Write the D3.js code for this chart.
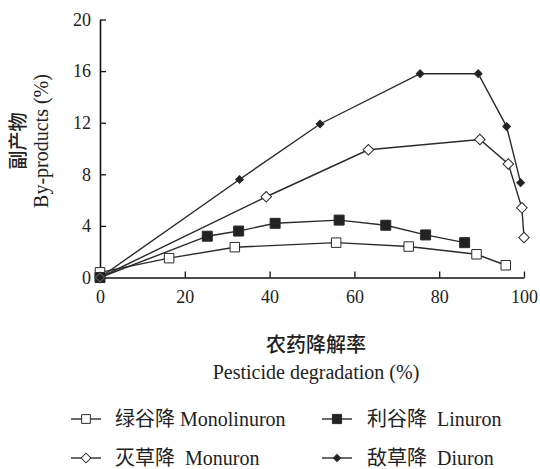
<!DOCTYPE html>
<html>
<head>
<meta charset="utf-8">
<script src="https://cdn.jsdelivr.net/npm/d3@7"></script>
<style>
  body { margin: 0; background: #fff; }
</style>
</head>
<body>
<svg id="chart" width="540" height="469"></svg>
<script>
/*************************Data********************* */
const seriesNames = ["绿谷降 Monolinuron", "利谷降  Linuron", "灭草降  Monuron", "敌草降  Diuron"];
const monolinuronX = [0, 16.3, 31.8, 55.7, 72.8, 88.8, 95.7];
const monolinuronY = [0.4, 1.5, 2.35, 2.7, 2.4, 1.8, 0.95];
const linuronX = [0, 25.3, 32.7, 41.3, 56.4, 67.4, 76.8, 86];
const linuronY = [0, 3.2, 3.6, 4.2, 4.45, 4.05, 3.3, 2.7];
const monuronX = [0, 39.2, 63.3, 89.6, 96.3, 99.5, 100];
const monuronY = [0, 6.26, 9.9, 10.7, 8.8, 5.4, 3.1];
const diuronX = [0, 32.9, 51.9, 75.5, 89.2, 95.9, 99.2];
const diuronY = [0, 7.6, 11.9, 15.8, 15.8, 11.7, 7.35];
const xTicks = [0, 20, 40, 60, 80, 100];
const yTicks = [0, 4, 8, 12, 16, 20];

const zip = (xs, ys) => xs.map((x, i) => ({ x: x, y: ys[i] }));
const series = [
  { name: seriesNames[0], pts: zip(monolinuronX, monolinuronY), marker: "square", filled: false },
  { name: seriesNames[1], pts: zip(linuronX, linuronY), marker: "square", filled: true },
  { name: seriesNames[2], pts: zip(monuronX, monuronY), marker: "diamond", filled: false },
  { name: seriesNames[3], pts: zip(diuronX, diuronY), marker: "diamond", filled: true },
];

const serif = "'Liberation Serif', 'Times New Roman', 'DejaVu Serif', 'Noto Sans CJK SC', serif";

/*************************Scales and Axes********************* */
const svg = d3.select("svg#chart");
const scaleX = d3.scaleLinear().domain([0, 100]).range([100, 524]);
const scaleY = d3.scaleLinear().domain([0, 20]).range([277.5, 19.5]);

const xAxis = d3.axisBottom(scaleX).tickValues(xTicks).tickSizeInner(-6).tickSizeOuter(0).tickPadding(13);
const yAxis = d3.axisLeft(scaleY).tickValues(yTicks).tickSizeInner(-6).tickSizeOuter(0).tickPadding(9);

svg.append("g").attr("class", "x-axis").attr("transform", `translate(0,${scaleY(0)})`).call(xAxis);
svg.append("g").attr("class", "y-axis").attr("transform", `translate(${scaleX(0)},0)`).call(yAxis);

svg.selectAll(".domain").attr("stroke", "#111").attr("stroke-width", 1.6);
svg.selectAll(".tick line").attr("stroke", "#111").attr("stroke-width", 1.3);
svg.selectAll(".tick text").style("font-family", serif).style("font-size", "18px").attr("fill", "#222");

// axis titles
const title = (x, y, rot, size, weight, txt) =>
  svg.append("text").attr("transform", `translate(${x},${y})${rot ? " rotate(-90)" : ""}`)
    .attr("text-anchor", "middle").style("font-family", serif).style("font-size", size + "px")
    .style("font-weight", weight).attr("fill", "#222").text(txt);
title(25, 141, true, 19, 500, "副产物");
title(48, 141, true, 20, 400, "By-products (%)");
title(316, 352, false, 20, 500, "农药降解率");
title(316, 379, false, 20, 400, "Pesticide degradation (%)");

/*************************Drawing Lines and Markers********************* */
const markerPath = (s, k) => s.marker === "square"
  ? d3.symbol(d3.symbolSquare, (s.filled ? 100 : 90) * k)()
  : d3.symbol(d3.symbolSquare, (s.filled ? 30 : 56) * k)();
const markerRot = (s) => (s.marker === "diamond" ? " rotate(45)" : "");

const line = d3.line().x((d) => scaleX(d.x)).y((d) => scaleY(d.y));
const plot = svg.append("g").attr("class", "draw");

series.forEach((s) => {
  plot.append("path").datum(s.pts).attr("d", line)
    .attr("fill", "none").attr("stroke", "#2a2a2a").attr("stroke-width", 1.4);
});
series.forEach((s) => {
  plot.append("g").selectAll("path").data(s.pts).join("path")
    .attr("d", markerPath(s, 1))
    .attr("transform", (d) => `translate(${scaleX(d.x)},${scaleY(d.y)})${markerRot(s)}`)
    .attr("fill", s.filled ? "#222" : "#fff")
    .attr("stroke", "#2a2a2a").attr("stroke-width", 1);
});

/*************************Legend********************* */
const legendPos = [[86, 419, 115], [337, 419, 367], [86, 458, 115], [337, 458, 367]];
const legend = svg.append("g").attr("class", "legend");
series.forEach((s, i) => {
  const [cx, cy, tx] = legendPos[i];
  const g = legend.append("g");
  g.append("line").attr("x1", cx - 15).attr("x2", cx + 15).attr("y1", cy).attr("y2", cy)
    .attr("stroke", "#2a2a2a").attr("stroke-width", 1.4);
  g.append("path").attr("d", markerPath(s, 0.85))
    .attr("transform", `translate(${cx},${cy})${markerRot(s)}`)
    .attr("fill", s.filled ? "#222" : "#fff").attr("stroke", "#2a2a2a").attr("stroke-width", 1);
  g.append("text").attr("x", tx).attr("y", cy + 7)
    .style("font-family", serif).style("font-size", "20px").attr("fill", "#222")
    .style("white-space", "pre").text(s.name);
});
</script>
</body>
</html>
